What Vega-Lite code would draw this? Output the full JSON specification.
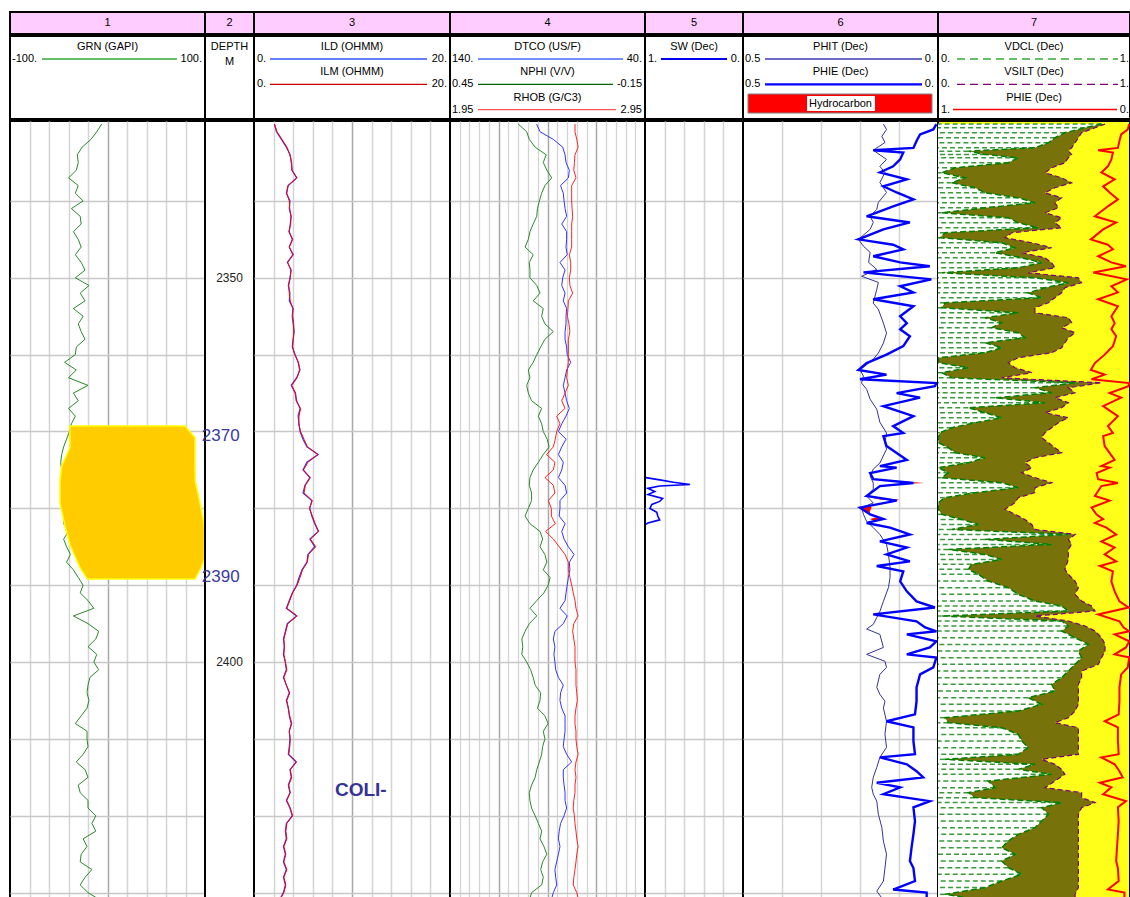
{
"$schema":"https://vega.github.io/schema/vega-lite/v6.json",
"background":"white",
"padding":{"left":9,"top":11,"right":0,"bottom":0},
"spacing":0,
"config":{"view":{"stroke":"black","strokeWidth":2},"concat":{"spacing":0},"axis":{"labels":false,"ticks":false,"domain":false,"minExtent":0,"maxExtent":0},"text":{"font":"Liberation Sans","fontSize":11}},
"datasets":{
"grn":[{"d":2330,"v":-6},{"d":2331,"v":-11},{"d":2332,"v":-17},{"d":2333,"v":-26},{"d":2334,"v":-31},{"d":2335,"v":-30},{"d":2336,"v":-32},{"d":2337,"v":-40},{"d":2338,"v":-30},{"d":2339,"v":-33},{"d":2340,"v":-25},{"d":2341,"v":-37},{"d":2342,"v":-28},{"d":2343,"v":-27},{"d":2344,"v":-35},{"d":2345,"v":-30},{"d":2346,"v":-27},{"d":2347,"v":-33},{"d":2348,"v":-27},{"d":2349,"v":-23},{"d":2350,"v":-33},{"d":2351,"v":-19},{"d":2352,"v":-28},{"d":2353,"v":-23},{"d":2354,"v":-35},{"d":2355,"v":-25},{"d":2356,"v":-30},{"d":2357,"v":-27},{"d":2358,"v":-23},{"d":2359,"v":-32},{"d":2360,"v":-33},{"d":2361,"v":-44},{"d":2362,"v":-32},{"d":2363,"v":-40},{"d":2364,"v":-20},{"d":2365,"v":-35},{"d":2366,"v":-30},{"d":2367,"v":-40},{"d":2368,"v":-33},{"d":2369,"v":-37},{"d":2370,"v":-39},{"d":2371,"v":-42},{"d":2372,"v":-45},{"d":2373,"v":-47},{"d":2374,"v":-48},{"d":2375,"v":-47},{"d":2376,"v":-46},{"d":2377,"v":-47},{"d":2378,"v":-46},{"d":2379,"v":-47},{"d":2380,"v":-45},{"d":2381,"v":-44},{"d":2382,"v":-45},{"d":2383,"v":-40},{"d":2384,"v":-45},{"d":2385,"v":-42},{"d":2386,"v":-38},{"d":2387,"v":-42},{"d":2388,"v":-35},{"d":2389,"v":-30},{"d":2390,"v":-25},{"d":2391,"v":-28},{"d":2392,"v":-20},{"d":2393,"v":-14},{"d":2394,"v":-35},{"d":2395,"v":-20},{"d":2396,"v":-9},{"d":2397,"v":-12},{"d":2398,"v":-20},{"d":2399,"v":-11},{"d":2400,"v":-14},{"d":2401,"v":-9},{"d":2402,"v":-18},{"d":2403,"v":-20},{"d":2404,"v":-21},{"d":2405,"v":-19},{"d":2406,"v":-21},{"d":2407,"v":-27},{"d":2408,"v":-33},{"d":2409,"v":-21},{"d":2410,"v":-21},{"d":2411,"v":-20},{"d":2412,"v":-25},{"d":2413,"v":-32},{"d":2414,"v":-23},{"d":2415,"v":-20},{"d":2416,"v":-30},{"d":2417,"v":-28},{"d":2418,"v":-20},{"d":2419,"v":-20},{"d":2420,"v":-12},{"d":2421,"v":-16},{"d":2422,"v":-12},{"d":2423,"v":-25},{"d":2424,"v":-21},{"d":2425,"v":-27},{"d":2426,"v":-28},{"d":2427,"v":-16},{"d":2428,"v":-23},{"d":2429,"v":-28},{"d":2430,"v":-20},{"d":2430.7,"v":-11}],
"core":[{"d":2369.3,"l":-38.5,"r":79.5},{"d":2370.8,"l":-38.5,"r":89.7},{"d":2372.1,"l":-38.5,"r":89.7},{"d":2374.5,"l":-47,"r":89.7},{"d":2376.5,"l":-48.7,"r":90},{"d":2379.3,"l":-48.7,"r":94.9},{"d":2382.3,"l":-43.6,"r":99.3},{"d":2384.7,"l":-38.5,"r":99.3},{"d":2386.6,"l":-32,"r":99.3},{"d":2387.7,"l":-28.2,"r":96},{"d":2389.2,"l":-20.7,"r":89.7}],
"res":[{"d":2330,"ild":2.07,"ilm":2.1},{"d":2331,"ild":2.3,"ilm":2.35},{"d":2332,"ild":2.8,"ilm":2.85},{"d":2333,"ild":3.3,"ilm":3.35},{"d":2334,"ild":3.7,"ilm":3.65},{"d":2335,"ild":3.8,"ilm":3.85},{"d":2336,"ild":3.9,"ilm":3.85},{"d":2337,"ild":4.35,"ilm":4.4},{"d":2338,"ild":3.5,"ilm":3.45},{"d":2339,"ild":3.3,"ilm":3.35},{"d":2340,"ild":3.67,"ilm":3.6},{"d":2341,"ild":3.6,"ilm":3.65},{"d":2342,"ild":3.8,"ilm":3.75},{"d":2343,"ild":3.7,"ilm":3.75},{"d":2344,"ild":3.6,"ilm":3.55},{"d":2345,"ild":3.9,"ilm":3.95},{"d":2346,"ild":3.6,"ilm":3.6},{"d":2347,"ild":4.0,"ilm":3.95},{"d":2348,"ild":3.4,"ilm":3.45},{"d":2349,"ild":3.8,"ilm":3.75},{"d":2350,"ild":3.67,"ilm":3.7},{"d":2351,"ild":3.5,"ilm":3.55},{"d":2352,"ild":3.67,"ilm":3.6},{"d":2353,"ild":3.6,"ilm":3.7},{"d":2354,"ild":4.0,"ilm":3.95},{"d":2355,"ild":3.9,"ilm":3.95},{"d":2356,"ild":4.0,"ilm":4.05},{"d":2357,"ild":4.1,"ilm":4.05},{"d":2358,"ild":4.0,"ilm":4.0},{"d":2359,"ild":3.9,"ilm":3.95},{"d":2360,"ild":4.2,"ilm":4.15},{"d":2361,"ild":4.5,"ilm":4.55},{"d":2362,"ild":4.7,"ilm":4.65},{"d":2363,"ild":4.35,"ilm":4.4},{"d":2364,"ild":3.8,"ilm":3.85},{"d":2365,"ild":4.2,"ilm":4.25},{"d":2366,"ild":4.35,"ilm":4.3},{"d":2367,"ild":4.7,"ilm":4.75},{"d":2368,"ild":4.5,"ilm":4.6},{"d":2369,"ild":4.6,"ilm":4.55},{"d":2370,"ild":4.7,"ilm":4.75},{"d":2371,"ild":5.0,"ilm":5.1},{"d":2372,"ild":5.4,"ilm":5.45},{"d":2373,"ild":6.56,"ilm":6.5},{"d":2374,"ild":5.4,"ilm":5.5},{"d":2375,"ild":5.0,"ilm":5.05},{"d":2376,"ild":5.7,"ilm":5.75},{"d":2377,"ild":5.2,"ilm":5.25},{"d":2378,"ild":5.0,"ilm":5.1},{"d":2379,"ild":5.9,"ilm":5.95},{"d":2380,"ild":5.7,"ilm":5.65},{"d":2381,"ild":5.9,"ilm":5.95},{"d":2382,"ild":6.2,"ilm":6.25},{"d":2383,"ild":6.56,"ilm":6.6},{"d":2384,"ild":5.7,"ilm":5.75},{"d":2385,"ild":6.2,"ilm":6.3},{"d":2386,"ild":5.5,"ilm":5.55},{"d":2387,"ild":5.4,"ilm":5.45},{"d":2388,"ild":4.9,"ilm":4.95},{"d":2389,"ild":4.6,"ilm":4.7},{"d":2390,"ild":4.35,"ilm":4.4},{"d":2391,"ild":3.9,"ilm":3.95},{"d":2392,"ild":3.6,"ilm":3.65},{"d":2393,"ild":3.3,"ilm":3.35},{"d":2394,"ild":4.35,"ilm":4.4},{"d":2395,"ild":3.4,"ilm":3.45},{"d":2396,"ild":3.2,"ilm":3.25},{"d":2397,"ild":3.0,"ilm":3.05},{"d":2398,"ild":3.1,"ilm":3.1},{"d":2399,"ild":3.0,"ilm":3.05},{"d":2400,"ild":3.2,"ilm":3.2},{"d":2401,"ild":3.3,"ilm":3.35},{"d":2402,"ild":3.0,"ilm":3.05},{"d":2403,"ild":3.3,"ilm":3.3},{"d":2404,"ild":3.6,"ilm":3.65},{"d":2405,"ild":3.3,"ilm":3.35},{"d":2406,"ild":3.5,"ilm":3.5},{"d":2407,"ild":3.6,"ilm":3.65},{"d":2408,"ild":3.8,"ilm":3.85},{"d":2409,"ild":3.6,"ilm":3.6},{"d":2410,"ild":3.67,"ilm":3.7},{"d":2411,"ild":3.6,"ilm":3.65},{"d":2412,"ild":3.5,"ilm":3.55},{"d":2413,"ild":4.3,"ilm":4.35},{"d":2414,"ild":3.67,"ilm":3.7},{"d":2415,"ild":3.8,"ilm":3.85},{"d":2416,"ild":3.5,"ilm":3.55},{"d":2417,"ild":3.67,"ilm":3.7},{"d":2418,"ild":3.3,"ilm":3.35},{"d":2419,"ild":3.67,"ilm":3.7},{"d":2420,"ild":3.9,"ilm":3.95},{"d":2421,"ild":3.3,"ilm":3.35},{"d":2422,"ild":3.2,"ilm":3.25},{"d":2423,"ild":3.3,"ilm":3.35},{"d":2424,"ild":3.0,"ilm":3.05},{"d":2425,"ild":3.2,"ilm":3.25},{"d":2426,"ild":3.0,"ilm":3.05},{"d":2427,"ild":3.3,"ilm":3.35},{"d":2428,"ild":3.0,"ilm":3.05},{"d":2429,"ild":3.2,"ilm":3.25},{"d":2430,"ild":3.0,"ilm":3.05},{"d":2430.7,"ild":2.7,"ilm":2.75}],
"t4":[{"d":2330,"dt":95.6,"np":0.24,"rb":2.591},{"d":2331,"dt":93.8,"np":0.214,"rb":2.591},{"d":2332,"dt":87.0,"np":0.206,"rb":2.6},{"d":2333,"dt":82.2,"np":0.188,"rb":2.607},{"d":2334,"dt":81.0,"np":0.154,"rb":2.591},{"d":2335,"dt":80.5,"np":0.163,"rb":2.588},{"d":2336,"dt":78.8,"np":0.152,"rb":2.585},{"d":2337,"dt":79.3,"np":0.137,"rb":2.596},{"d":2338,"dt":83.3,"np":0.158,"rb":2.574},{"d":2339,"dt":81.9,"np":0.168,"rb":2.574},{"d":2340,"dt":81.5,"np":0.175,"rb":2.574},{"d":2341,"dt":81.0,"np":0.181,"rb":2.576},{"d":2342,"dt":80.2,"np":0.183,"rb":2.579},{"d":2343,"dt":82.7,"np":0.194,"rb":2.574},{"d":2344,"dt":80.2,"np":0.204,"rb":2.574},{"d":2345,"dt":80.2,"np":0.209,"rb":2.574},{"d":2346,"dt":80.5,"np":0.219,"rb":2.574},{"d":2347,"dt":79.9,"np":0.194,"rb":2.562},{"d":2348,"dt":83.6,"np":0.206,"rb":2.569},{"d":2349,"dt":81.0,"np":0.204,"rb":2.569},{"d":2350,"dt":82.2,"np":0.204,"rb":2.562},{"d":2351,"dt":82.7,"np":0.183,"rb":2.565},{"d":2352,"dt":81.0,"np":0.173,"rb":2.579},{"d":2353,"dt":81.9,"np":0.194,"rb":2.557},{"d":2354,"dt":80.2,"np":0.163,"rb":2.555},{"d":2355,"dt":80.5,"np":0.168,"rb":2.552},{"d":2356,"dt":80.5,"np":0.158,"rb":2.56},{"d":2357,"dt":81.0,"np":0.132,"rb":2.565},{"d":2358,"dt":81.0,"np":0.158,"rb":2.557},{"d":2359,"dt":80.2,"np":0.171,"rb":2.557},{"d":2360,"dt":79.9,"np":0.183,"rb":2.557},{"d":2361,"dt":78.1,"np":0.194,"rb":2.557},{"d":2362,"dt":80.2,"np":0.209,"rb":2.552},{"d":2363,"dt":81.0,"np":0.204,"rb":2.548},{"d":2364,"dt":81.9,"np":0.214,"rb":2.557},{"d":2365,"dt":81.0,"np":0.209,"rb":2.54},{"d":2366,"dt":80.2,"np":0.199,"rb":2.523},{"d":2367,"dt":78.8,"np":0.168,"rb":2.54},{"d":2368,"dt":80.5,"np":0.178,"rb":2.497},{"d":2369,"dt":82.7,"np":0.168,"rb":2.514},{"d":2370,"dt":84.4,"np":0.163,"rb":2.497},{"d":2371,"dt":80.5,"np":0.151,"rb":2.49},{"d":2372,"dt":82.7,"np":0.145,"rb":2.48},{"d":2373,"dt":84.4,"np":0.163,"rb":2.445},{"d":2374,"dt":81.9,"np":0.178,"rb":2.488},{"d":2375,"dt":82.7,"np":0.194,"rb":2.48},{"d":2376,"dt":84.4,"np":0.204,"rb":2.437},{"d":2377,"dt":81.0,"np":0.206,"rb":2.48},{"d":2378,"dt":80.2,"np":0.199,"rb":2.488},{"d":2379,"dt":83.6,"np":0.199,"rb":2.454},{"d":2380,"dt":83.6,"np":0.209,"rb":2.47},{"d":2381,"dt":84.0,"np":0.219,"rb":2.47},{"d":2382,"dt":81.0,"np":0.204,"rb":2.49},{"d":2383,"dt":82.7,"np":0.173,"rb":2.44},{"d":2384,"dt":81.5,"np":0.165,"rb":2.48},{"d":2385,"dt":79.3,"np":0.173,"rb":2.51},{"d":2386,"dt":76.4,"np":0.158,"rb":2.54},{"d":2387,"dt":78.8,"np":0.152,"rb":2.557},{"d":2388,"dt":78.5,"np":0.163,"rb":2.557},{"d":2389,"dt":79.3,"np":0.142,"rb":2.565},{"d":2390,"dt":79.9,"np":0.148,"rb":2.574},{"d":2391,"dt":80.5,"np":0.161,"rb":2.582},{"d":2392,"dt":81.0,"np":0.183,"rb":2.591},{"d":2393,"dt":83.6,"np":0.204,"rb":2.596},{"d":2394,"dt":79.9,"np":0.183,"rb":2.607},{"d":2395,"dt":81.9,"np":0.206,"rb":2.585},{"d":2396,"dt":86.2,"np":0.219,"rb":2.579},{"d":2397,"dt":87.0,"np":0.229,"rb":2.585},{"d":2398,"dt":86.2,"np":0.226,"rb":2.591},{"d":2399,"dt":86.7,"np":0.229,"rb":2.591},{"d":2400,"dt":86.2,"np":0.214,"rb":2.591},{"d":2401,"dt":85.8,"np":0.202,"rb":2.596},{"d":2402,"dt":84.4,"np":0.194,"rb":2.596},{"d":2403,"dt":81.9,"np":0.188,"rb":2.596},{"d":2404,"dt":83.3,"np":0.171,"rb":2.6},{"d":2405,"dt":83.6,"np":0.173,"rb":2.603},{"d":2406,"dt":82.7,"np":0.181,"rb":2.596},{"d":2407,"dt":81.0,"np":0.158,"rb":2.591},{"d":2408,"dt":81.0,"np":0.148,"rb":2.591},{"d":2409,"dt":81.0,"np":0.163,"rb":2.596},{"d":2410,"dt":81.5,"np":0.158,"rb":2.596},{"d":2411,"dt":81.9,"np":0.165,"rb":2.6},{"d":2412,"dt":80.2,"np":0.168,"rb":2.607},{"d":2413,"dt":77.6,"np":0.175,"rb":2.596},{"d":2414,"dt":81.9,"np":0.183,"rb":2.591},{"d":2415,"dt":81.9,"np":0.188,"rb":2.596},{"d":2416,"dt":81.5,"np":0.199,"rb":2.591},{"d":2417,"dt":81.0,"np":0.206,"rb":2.591},{"d":2418,"dt":81.0,"np":0.204,"rb":2.585},{"d":2419,"dt":80.2,"np":0.199,"rb":2.582},{"d":2420,"dt":81.5,"np":0.188,"rb":2.588},{"d":2421,"dt":83.3,"np":0.178,"rb":2.591},{"d":2422,"dt":84.0,"np":0.168,"rb":2.596},{"d":2423,"dt":84.4,"np":0.173,"rb":2.6},{"d":2424,"dt":83.6,"np":0.161,"rb":2.607},{"d":2425,"dt":84.4,"np":0.152,"rb":2.6},{"d":2426,"dt":85.3,"np":0.165,"rb":2.596},{"d":2427,"dt":86.2,"np":0.171,"rb":2.591},{"d":2428,"dt":85.8,"np":0.163,"rb":2.585},{"d":2429,"dt":85.3,"np":0.168,"rb":2.582},{"d":2430,"dt":87.0,"np":0.199,"rb":2.6},{"d":2430.7,"dt":87.8,"np":0.204,"rb":2.607}],
"sw":[{"d":2376.0,"v":0.99},{"d":2376.3,"v":0.85},{"d":2376.6,"v":0.71},{"d":2376.9,"v":0.54},{"d":2377.1,"v":0.85},{"d":2377.4,"v":0.97},{"d":2377.8,"v":0.9},{"d":2378.2,"v":0.97},{"d":2378.7,"v":0.82},{"d":2379.1,"v":0.85},{"d":2379.5,"v":0.93},{"d":2380.0,"v":0.95},{"d":2380.5,"v":0.88},{"d":2381.0,"v":0.87},{"d":2381.5,"v":0.85},{"d":2381.9,"v":0.97},{"d":2382.1,"v":0.99}],
"phit":[{"d":2330.0,"v":0.14},{"d":2330.7,"v":0.132},{"d":2331.6,"v":0.144},{"d":2332.4,"v":0.136},{"d":2333.4,"v":0.166},{"d":2334.6,"v":0.132},{"d":2335.5,"v":0.149},{"d":2336.3,"v":0.136},{"d":2337.6,"v":0.149},{"d":2338.9,"v":0.132},{"d":2340.2,"v":0.153},{"d":2341.1,"v":0.157},{"d":2342.0,"v":0.174},{"d":2342.8,"v":0.166},{"d":2343.7,"v":0.174},{"d":2345.0,"v":0.204},{"d":2345.9,"v":0.191},{"d":2346.7,"v":0.174},{"d":2348.0,"v":0.178},{"d":2348.9,"v":0.157},{"d":2349.8,"v":0.196},{"d":2350.6,"v":0.153},{"d":2351.5,"v":0.157},{"d":2353.3,"v":0.166},{"d":2354.1,"v":0.153},{"d":2355.9,"v":0.14},{"d":2357.2,"v":0.132},{"d":2358.5,"v":0.14},{"d":2359.8,"v":0.153},{"d":2360.6,"v":0.166},{"d":2362.0,"v":0.2},{"d":2362.8,"v":0.191},{"d":2363.7,"v":0.196},{"d":2364.5,"v":0.183},{"d":2365.8,"v":0.174},{"d":2367.1,"v":0.157},{"d":2368.8,"v":0.149},{"d":2370.2,"v":0.132},{"d":2371.5,"v":0.136},{"d":2372.3,"v":0.132},{"d":2374.1,"v":0.149},{"d":2374.9,"v":0.166},{"d":2375.8,"v":0.174},{"d":2376.7,"v":0.166},{"d":2377.5,"v":0.166},{"d":2378.4,"v":0.183},{"d":2379.3,"v":0.166},{"d":2379.9,"v":0.196},{"d":2380.8,"v":0.191},{"d":2381.7,"v":0.183},{"d":2382.5,"v":0.166},{"d":2383.4,"v":0.149},{"d":2384.7,"v":0.132},{"d":2386.0,"v":0.127},{"d":2387.7,"v":0.123},{"d":2389.0,"v":0.123},{"d":2390.3,"v":0.127},{"d":2392.1,"v":0.14},{"d":2393.4,"v":0.149},{"d":2394.2,"v":0.157},{"d":2395.1,"v":0.166},{"d":2395.7,"v":0.183},{"d":2396.4,"v":0.149},{"d":2398.1,"v":0.14},{"d":2399.0,"v":0.183},{"d":2399.9,"v":0.136},{"d":2400.7,"v":0.132},{"d":2401.6,"v":0.149},{"d":2403.3,"v":0.157},{"d":2404.2,"v":0.149},{"d":2405.1,"v":0.136},{"d":2406.0,"v":0.14},{"d":2407.7,"v":0.132},{"d":2409.4,"v":0.136},{"d":2411.1,"v":0.132},{"d":2412.4,"v":0.149},{"d":2413.7,"v":0.157},{"d":2415.0,"v":0.166},{"d":2416.3,"v":0.17},{"d":2417.2,"v":0.166},{"d":2418.1,"v":0.157},{"d":2419.8,"v":0.153},{"d":2421.5,"v":0.144},{"d":2423.3,"v":0.14},{"d":2425.0,"v":0.132},{"d":2426.8,"v":0.136},{"d":2428.5,"v":0.14},{"d":2429.8,"v":0.157},{"d":2430.7,"v":0.144}],
"phie":[{"d":2330.0,"v":0.004},{"d":2330.7,"v":0.012},{"d":2331.35,"v":0.046},{"d":2332.2,"v":0.055},{"d":2333.1,"v":0.063},{"d":2333.4,"v":0.166},{"d":2333.7,"v":0.089},{"d":2334.6,"v":0.097},{"d":2335.5,"v":0.115},{"d":2336.3,"v":0.149},{"d":2337.2,"v":0.08},{"d":2338.1,"v":0.14},{"d":2338.9,"v":0.106},{"d":2339.8,"v":0.063},{"d":2340.7,"v":0.115},{"d":2342.0,"v":0.183},{"d":2342.8,"v":0.072},{"d":2343.7,"v":0.14},{"d":2345.0,"v":0.204},{"d":2345.7,"v":0.115},{"d":2346.3,"v":0.089},{"d":2347.2,"v":0.166},{"d":2348.0,"v":0.097},{"d":2348.5,"v":0.021},{"d":2349.3,"v":0.191},{"d":2350.2,"v":0.017},{"d":2351.1,"v":0.097},{"d":2351.9,"v":0.063},{"d":2352.8,"v":0.166},{"d":2353.7,"v":0.063},{"d":2355.0,"v":0.097},{"d":2355.9,"v":0.08},{"d":2356.7,"v":0.097},{"d":2357.6,"v":0.072},{"d":2358.9,"v":0.089},{"d":2360.0,"v":0.132},{"d":2361.1,"v":0.183},{"d":2362.0,"v":0.204},{"d":2362.6,"v":0.132},{"d":2363.2,"v":0.2},{"d":2363.7,"v":0.004},{"d":2364.1,"v":0.008},{"d":2365.0,"v":0.106},{"d":2365.6,"v":0.046},{"d":2366.7,"v":0.14},{"d":2368.0,"v":0.063},{"d":2369.3,"v":0.115},{"d":2370.2,"v":0.089},{"d":2370.6,"v":0.14},{"d":2371.9,"v":0.132},{"d":2373.7,"v":0.08},{"d":2374.5,"v":0.149},{"d":2374.7,"v":0.106},{"d":2375.4,"v":0.174},{"d":2376.2,"v":0.166},{"d":2376.7,"v":0.063},{"d":2377.1,"v":0.149},{"d":2378.4,"v":0.183},{"d":2379.0,"v":0.106},{"d":2379.9,"v":0.2},{"d":2380.8,"v":0.174},{"d":2381.4,"v":0.14},{"d":2381.9,"v":0.183},{"d":2382.5,"v":0.123},{"d":2383.4,"v":0.072},{"d":2384.3,"v":0.149},{"d":2385.1,"v":0.08},{"d":2386.0,"v":0.132},{"d":2386.9,"v":0.072},{"d":2387.5,"v":0.157},{"d":2388.2,"v":0.089},{"d":2389.5,"v":0.097},{"d":2390.8,"v":0.08},{"d":2392.1,"v":0.055},{"d":2392.9,"v":0.008},{"d":2393.8,"v":0.166},{"d":2394.7,"v":0.055},{"d":2395.5,"v":0.033},{"d":2396.0,"v":0.004},{"d":2396.4,"v":0.08},{"d":2397.3,"v":0.004},{"d":2398.1,"v":0.021},{"d":2399.0,"v":0.08},{"d":2399.4,"v":0.004},{"d":2400.7,"v":0.012},{"d":2401.6,"v":0.046},{"d":2403.3,"v":0.055},{"d":2405.1,"v":0.055},{"d":2406.8,"v":0.059},{"d":2407.7,"v":0.132},{"d":2408.5,"v":0.063},{"d":2410.3,"v":0.063},{"d":2412.0,"v":0.059},{"d":2412.4,"v":0.149},{"d":2413.3,"v":0.08},{"d":2414.2,"v":0.055},{"d":2415.0,"v":0.038},{"d":2415.7,"v":0.157},{"d":2416.3,"v":0.097},{"d":2417.2,"v":0.14},{"d":2418.1,"v":0.021},{"d":2418.9,"v":0.063},{"d":2420.7,"v":0.059},{"d":2422.4,"v":0.063},{"d":2424.2,"v":0.068},{"d":2425.9,"v":0.072},{"d":2426.8,"v":0.063},{"d":2428.5,"v":0.059},{"d":2429.6,"v":0.115},{"d":2430.0,"v":0.029},{"d":2430.7,"v":0.029}],
"hc":[{"g":1,"d":2376.4,"a":0.11,"b":0.11},{"g":1,"d":2376.7,"a":0.063,"b":0.035},{"g":1,"d":2376.9,"a":0.12,"b":0.12},{"g":2,"d":2378.6,"a":0.17,"b":0.17},{"g":2,"d":2378.85,"a":0.15,"b":0.1},{"g":2,"d":2379.0,"a":0.106,"b":0.106},{"g":3,"d":2379.6,"a":0.18,"b":0.18},{"g":3,"d":2379.9,"a":0.2,"b":0.17},{"g":3,"d":2380.4,"a":0.19,"b":0.175},{"g":3,"d":2380.8,"a":0.174,"b":0.174},{"g":4,"d":2381.2,"a":0.16,"b":0.16},{"g":4,"d":2381.4,"a":0.174,"b":0.136},{"g":4,"d":2381.6,"a":0.165,"b":0.165}],
"lith":[{"d":2330.0,"vcl":0.852,"vs":0.87},{"d":2330.48,"vcl":0.766,"vs":0.818},{"d":2331.13,"vcl":0.661,"vs":0.748},{"d":2331.78,"vcl":0.609,"vs":0.731},{"d":2332.43,"vcl":0.575,"vs":0.714},{"d":2333.08,"vcl":0.505,"vs":0.696},{"d":2333.52,"vcl":0.158,"vs":0.679},{"d":2333.95,"vcl":0.245,"vs":0.696},{"d":2334.38,"vcl":0.418,"vs":0.679},{"d":2335.03,"vcl":0.366,"vs":0.661},{"d":2335.69,"vcl":0.089,"vs":0.592},{"d":2336.34,"vcl":0.019,"vs":0.557},{"d":2336.99,"vcl":0.141,"vs":0.644},{"d":2337.64,"vcl":0.071,"vs":0.696},{"d":2338.29,"vcl":0.193,"vs":0.609},{"d":2338.94,"vcl":0.245,"vs":0.557},{"d":2339.59,"vcl":0.418,"vs":0.644},{"d":2340.24,"vcl":0.505,"vs":0.609},{"d":2340.89,"vcl":0.245,"vs":0.627},{"d":2341.54,"vcl":0.019,"vs":0.557},{"d":2342.19,"vcl":0.366,"vs":0.644},{"d":2342.84,"vcl":0.418,"vs":0.609},{"d":2343.49,"vcl":0.523,"vs":0.644},{"d":2344.14,"vcl":0.036,"vs":0.384},{"d":2344.79,"vcl":0.01,"vs":0.349},{"d":2345.44,"vcl":0.332,"vs":0.488},{"d":2346.09,"vcl":0.401,"vs":0.592},{"d":2346.74,"vcl":0.297,"vs":0.436},{"d":2347.39,"vcl":0.436,"vs":0.557},{"d":2348.04,"vcl":0.54,"vs":0.592},{"d":2348.69,"vcl":0.418,"vs":0.609},{"d":2349.35,"vcl":0.019,"vs":0.47},{"d":2350.0,"vcl":0.505,"vs":0.731},{"d":2350.65,"vcl":0.679,"vs":0.748},{"d":2351.3,"vcl":0.557,"vs":0.661},{"d":2351.95,"vcl":0.47,"vs":0.644},{"d":2352.6,"vcl":0.54,"vs":0.609},{"d":2353.25,"vcl":0.036,"vs":0.575},{"d":2353.9,"vcl":0.019,"vs":0.505},{"d":2354.55,"vcl":0.418,"vs":0.505},{"d":2355.2,"vcl":0.245,"vs":0.679},{"d":2355.85,"vcl":0.332,"vs":0.696},{"d":2356.5,"vcl":0.28,"vs":0.644},{"d":2357.15,"vcl":0.418,"vs":0.714},{"d":2357.8,"vcl":0.453,"vs":0.679},{"d":2358.45,"vcl":0.245,"vs":0.661},{"d":2359.1,"vcl":0.332,"vs":0.644},{"d":2359.75,"vcl":0.245,"vs":0.592},{"d":2360.4,"vcl":0.002,"vs":0.418},{"d":2361.05,"vcl":0.002,"vs":0.366},{"d":2361.7,"vcl":0.158,"vs":0.401},{"d":2362.35,"vcl":0.019,"vs":0.488},{"d":2363.01,"vcl":0.071,"vs":0.332},{"d":2363.66,"vcl":0.714,"vs":0.852},{"d":2364.31,"vcl":0.505,"vs":0.679},{"d":2364.96,"vcl":0.592,"vs":0.714},{"d":2365.61,"vcl":0.297,"vs":0.609},{"d":2366.26,"vcl":0.557,"vs":0.679},{"d":2366.91,"vcl":0.158,"vs":0.644},{"d":2367.56,"vcl":0.245,"vs":0.557},{"d":2368.21,"vcl":0.332,"vs":0.679},{"d":2368.86,"vcl":0.193,"vs":0.627},{"d":2369.51,"vcl":0.071,"vs":0.592},{"d":2370.16,"vcl":0.01,"vs":0.557},{"d":2370.81,"vcl":0.002,"vs":0.54},{"d":2371.46,"vcl":0.002,"vs":0.575},{"d":2372.11,"vcl":0.054,"vs":0.609},{"d":2372.76,"vcl":0.089,"vs":0.644},{"d":2373.41,"vcl":0.245,"vs":0.505},{"d":2374.06,"vcl":0.158,"vs":0.453},{"d":2374.71,"vcl":0.002,"vs":0.488},{"d":2375.36,"vcl":0.054,"vs":0.436},{"d":2376.01,"vcl":0.019,"vs":0.505},{"d":2376.66,"vcl":0.332,"vs":0.592},{"d":2377.31,"vcl":0.418,"vs":0.505},{"d":2377.96,"vcl":0.193,"vs":0.505},{"d":2378.61,"vcl":0.036,"vs":0.418},{"d":2379.26,"vcl":0.002,"vs":0.401},{"d":2380.13,"vcl":0.002,"vs":0.349},{"d":2380.78,"vcl":0.019,"vs":0.401},{"d":2381.44,"vcl":0.123,"vs":0.453},{"d":2382.09,"vcl":0.21,"vs":0.488},{"d":2382.74,"vcl":0.071,"vs":0.505},{"d":2383.39,"vcl":0.679,"vs":0.714},{"d":2384.04,"vcl":0.245,"vs":0.679},{"d":2384.69,"vcl":0.592,"vs":0.696},{"d":2385.34,"vcl":0.054,"vs":0.679},{"d":2385.99,"vcl":0.245,"vs":0.679},{"d":2386.64,"vcl":0.332,"vs":0.679},{"d":2387.29,"vcl":0.175,"vs":0.67},{"d":2387.94,"vcl":0.158,"vs":0.661},{"d":2388.59,"vcl":0.21,"vs":0.679},{"d":2389.46,"vcl":0.262,"vs":0.714},{"d":2390.32,"vcl":0.366,"vs":0.731},{"d":2391.19,"vcl":0.418,"vs":0.714},{"d":2392.06,"vcl":0.505,"vs":0.748},{"d":2392.71,"vcl":0.644,"vs":0.8},{"d":2393.36,"vcl":0.679,"vs":0.818},{"d":2394.01,"vcl":0.019,"vs":0.505},{"d":2394.66,"vcl":0.644,"vs":0.679},{"d":2395.31,"vcl":0.679,"vs":0.766},{"d":2395.96,"vcl":0.644,"vs":0.818},{"d":2396.83,"vcl":0.714,"vs":0.852},{"d":2397.7,"vcl":0.783,"vs":0.87},{"d":2398.56,"vcl":0.731,"vs":0.87},{"d":2399.43,"vcl":0.748,"vs":0.852},{"d":2400.3,"vcl":0.714,"vs":0.835},{"d":2401.17,"vcl":0.679,"vs":0.748},{"d":2402.03,"vcl":0.644,"vs":0.748},{"d":2402.9,"vcl":0.592,"vs":0.731},{"d":2403.77,"vcl":0.609,"vs":0.731},{"d":2404.64,"vcl":0.47,"vs":0.731},{"d":2405.5,"vcl":0.54,"vs":0.731},{"d":2406.37,"vcl":0.418,"vs":0.714},{"d":2407.24,"vcl":0.036,"vs":0.679},{"d":2407.89,"vcl":0.054,"vs":0.609},{"d":2408.54,"vcl":0.332,"vs":0.731},{"d":2409.41,"vcl":0.418,"vs":0.731},{"d":2410.27,"vcl":0.436,"vs":0.731},{"d":2411.14,"vcl":0.47,"vs":0.731},{"d":2412.01,"vcl":0.418,"vs":0.731},{"d":2412.66,"vcl":0.036,"vs":0.54},{"d":2413.31,"vcl":0.505,"vs":0.609},{"d":2413.96,"vcl":0.418,"vs":0.644},{"d":2414.61,"vcl":0.592,"vs":0.661},{"d":2415.48,"vcl":0.262,"vs":0.609},{"d":2416.34,"vcl":0.297,"vs":0.557},{"d":2416.99,"vcl":0.158,"vs":0.748},{"d":2417.64,"vcl":0.193,"vs":0.748},{"d":2418.29,"vcl":0.644,"vs":0.818},{"d":2418.95,"vcl":0.54,"vs":0.748},{"d":2419.81,"vcl":0.575,"vs":0.731},{"d":2420.68,"vcl":0.54,"vs":0.731},{"d":2421.55,"vcl":0.505,"vs":0.731},{"d":2422.42,"vcl":0.418,"vs":0.731},{"d":2423.28,"vcl":0.366,"vs":0.731},{"d":2424.15,"vcl":0.332,"vs":0.731},{"d":2425.02,"vcl":0.401,"vs":0.731},{"d":2425.89,"vcl":0.332,"vs":0.731},{"d":2426.75,"vcl":0.366,"vs":0.731},{"d":2427.62,"vcl":0.436,"vs":0.731},{"d":2428.49,"vcl":0.332,"vs":0.731},{"d":2429.35,"vcl":0.245,"vs":0.731},{"d":2430.22,"vcl":0.036,"vs":0.714},{"d":2430.7,"vcl":0.158,"vs":0.714}]
},
"vconcat":[
{"spacing":0,"bounds":"flush","hconcat":[
 {"width":195,"height":22,"view":{"fill":"#ffccff","stroke":"black","strokeWidth":2},"data":{"values":[{"n":"1"}]},"mark":{"type":"text"},"encoding":{"text":{"field":"n","type":"nominal"}}},
 {"width":49,"height":22,"view":{"fill":"#ffccff","stroke":"black","strokeWidth":2},"data":{"values":[{"n":"2"}]},"mark":{"type":"text"},"encoding":{"text":{"field":"n","type":"nominal"}}},
 {"width":196,"height":22,"view":{"fill":"#ffccff","stroke":"black","strokeWidth":2},"data":{"values":[{"n":"3"}]},"mark":{"type":"text"},"encoding":{"text":{"field":"n","type":"nominal"}}},
 {"width":195,"height":22,"view":{"fill":"#ffccff","stroke":"black","strokeWidth":2},"data":{"values":[{"n":"4"}]},"mark":{"type":"text"},"encoding":{"text":{"field":"n","type":"nominal"}}},
 {"width":98,"height":22,"view":{"fill":"#ffccff","stroke":"black","strokeWidth":2},"data":{"values":[{"n":"5"}]},"mark":{"type":"text"},"encoding":{"text":{"field":"n","type":"nominal"}}},
 {"width":195,"height":22,"view":{"fill":"#ffccff","stroke":"black","strokeWidth":2},"data":{"values":[{"n":"6"}]},"mark":{"type":"text"},"encoding":{"text":{"field":"n","type":"nominal"}}},
 {"width":192,"height":22,"view":{"fill":"#ffccff","stroke":"black","strokeWidth":2},"data":{"values":[{"n":"7"}]},"mark":{"type":"text"},"encoding":{"text":{"field":"n","type":"nominal"}}}
]},
{"spacing":0,"bounds":"flush","hconcat":[
 {"width":195,"height":83,"view":{"fill":"white","stroke":"black","strokeWidth":2},"data":{"values":[{"r":0,"name":"GRN (GAPI)","lo":"-100.","hi":"100."}]},
  "layer":[
   {"mark":{"type":"text","dy":-12},"encoding":{"x":{"datum":0.5,"type":"quantitative","scale":{"domain":[0,1],"nice":false},"axis":null},"y":{"field":"r","type":"quantitative","scale":{"domain":[-0.909,2.372],"reverse":true,"nice":false,"zero":false},"axis":null},"text":{"field":"name","type":"nominal"}}},
   {"mark":{"type":"text","align":"left","dx":2},"encoding":{"x":{"datum":0,"type":"quantitative"},"y":{"field":"r","type":"quantitative"},"text":{"field":"lo","type":"nominal"}}},
   {"mark":{"type":"text","align":"right","dx":-3},"encoding":{"x":{"datum":1,"type":"quantitative"},"y":{"field":"r","type":"quantitative"},"text":{"field":"hi","type":"nominal"}}},
   {"mark":{"type":"rule","color":"#33aa33","strokeWidth":1.3,"xOffset":32,"x2Offset":-28},"encoding":{"x":{"value":0},"x2":{"value":"width"},"y":{"field":"r","type":"quantitative"}}}
  ]},
 {"width":49,"height":83,"view":{"fill":"white","stroke":"black","strokeWidth":2},"data":{"values":[{"r":0,"a":"DEPTH","b":"M"}]},
  "layer":[
   {"mark":{"type":"text","dy":-12},"encoding":{"x":{"datum":0.5,"type":"quantitative","scale":{"domain":[0,1],"nice":false},"axis":null},"y":{"field":"r","type":"quantitative","scale":{"domain":[-0.909,2.372],"reverse":true,"nice":false,"zero":false},"axis":null},"text":{"field":"a","type":"nominal"}}},
   {"mark":{"type":"text","dy":3},"encoding":{"x":{"datum":0.5,"type":"quantitative"},"y":{"field":"r","type":"quantitative"},"text":{"field":"b","type":"nominal"}}}
  ]},
 {"width":196,"height":83,"view":{"fill":"white","stroke":"black","strokeWidth":2},"data":{"values":[{"r":0,"name":"ILD (OHMM)","lo":"0.","hi":"20."},{"r":1,"name":"ILM (OHMM)","lo":"0.","hi":"20."}]},
  "layer":[
   {"mark":{"type":"text","dy":-12},"encoding":{"x":{"datum":0.5,"type":"quantitative","scale":{"domain":[0,1],"nice":false},"axis":null},"y":{"field":"r","type":"quantitative","scale":{"domain":[-0.909,2.372],"reverse":true,"nice":false,"zero":false},"axis":null},"text":{"field":"name","type":"nominal"}}},
   {"mark":{"type":"text","align":"left","dx":3},"encoding":{"x":{"datum":0,"type":"quantitative"},"y":{"field":"r","type":"quantitative"},"text":{"field":"lo","type":"nominal"}}},
   {"mark":{"type":"text","align":"right","dx":-3},"encoding":{"x":{"datum":1,"type":"quantitative"},"y":{"field":"r","type":"quantitative"},"text":{"field":"hi","type":"nominal"}}},
   {"transform":[{"filter":"datum.r == 0"}],"mark":{"type":"rule","color":"#3355ff","strokeWidth":1.3,"xOffset":16,"x2Offset":-23},"encoding":{"x":{"value":0},"x2":{"value":"width"},"y":{"field":"r","type":"quantitative"}}},
   {"transform":[{"filter":"datum.r == 1"}],"mark":{"type":"rule","color":"#cc0000","strokeWidth":1.3,"xOffset":16,"x2Offset":-23},"encoding":{"x":{"value":0},"x2":{"value":"width"},"y":{"field":"r","type":"quantitative"}}}
  ]},
 {"width":195,"height":83,"view":{"fill":"white","stroke":"black","strokeWidth":2},"data":{"values":[{"r":0,"name":"DTCO (US/F)","lo":"140.","hi":"40."},{"r":1,"name":"NPHI (V/V)","lo":"0.45","hi":"-0.15"},{"r":2,"name":"RHOB (G/C3)","lo":"1.95","hi":"2.95"}]},
  "layer":[
   {"mark":{"type":"text","dy":-12},"encoding":{"x":{"datum":0.5,"type":"quantitative","scale":{"domain":[0,1],"nice":false},"axis":null},"y":{"field":"r","type":"quantitative","scale":{"domain":[-0.909,2.372],"reverse":true,"nice":false,"zero":false},"axis":null},"text":{"field":"name","type":"nominal"}}},
   {"mark":{"type":"text","align":"left","dx":2},"encoding":{"x":{"datum":0,"type":"quantitative"},"y":{"field":"r","type":"quantitative"},"text":{"field":"lo","type":"nominal"}}},
   {"mark":{"type":"text","align":"right","dx":-3},"encoding":{"x":{"datum":1,"type":"quantitative"},"y":{"field":"r","type":"quantitative"},"text":{"field":"hi","type":"nominal"}}},
   {"transform":[{"filter":"datum.r == 0"}],"mark":{"type":"rule","color":"#4466ff","strokeWidth":1.3,"xOffset":28,"x2Offset":-22},"encoding":{"x":{"value":0},"x2":{"value":"width"},"y":{"field":"r","type":"quantitative"}}},
   {"transform":[{"filter":"datum.r == 1"}],"mark":{"type":"rule","color":"#006600","strokeWidth":1.3,"xOffset":28,"x2Offset":-32},"encoding":{"x":{"value":0},"x2":{"value":"width"},"y":{"field":"r","type":"quantitative"}}},
   {"transform":[{"filter":"datum.r == 2"}],"mark":{"type":"rule","color":"#ff5555","strokeWidth":1.3,"xOffset":28,"x2Offset":-29},"encoding":{"x":{"value":0},"x2":{"value":"width"},"y":{"field":"r","type":"quantitative"}}}
  ]},
 {"width":98,"height":83,"view":{"fill":"white","stroke":"black","strokeWidth":2},"data":{"values":[{"r":0,"name":"SW (Dec)","lo":"1.","hi":"0."}]},
  "layer":[
   {"mark":{"type":"text","dy":-12},"encoding":{"x":{"datum":0.5,"type":"quantitative","scale":{"domain":[0,1],"nice":false},"axis":null},"y":{"field":"r","type":"quantitative","scale":{"domain":[-0.909,2.372],"reverse":true,"nice":false,"zero":false},"axis":null},"text":{"field":"name","type":"nominal"}}},
   {"mark":{"type":"text","align":"left","dx":3},"encoding":{"x":{"datum":0,"type":"quantitative"},"y":{"field":"r","type":"quantitative"},"text":{"field":"lo","type":"nominal"}}},
   {"mark":{"type":"text","align":"right","dx":-3},"encoding":{"x":{"datum":1,"type":"quantitative"},"y":{"field":"r","type":"quantitative"},"text":{"field":"hi","type":"nominal"}}},
   {"mark":{"type":"rule","color":"#0000ee","strokeWidth":2,"xOffset":16,"x2Offset":-16},"encoding":{"x":{"value":0},"x2":{"value":"width"},"y":{"field":"r","type":"quantitative"}}}
  ]},
 {"width":195,"height":83,"view":{"fill":"white","stroke":"black","strokeWidth":2},"data":{"values":[{"r":0,"name":"PHIT (Dec)","lo":"0.5","hi":"0."},{"r":1,"name":"PHIE (Dec)","lo":"0.5","hi":"0."}]},
  "layer":[
   {"mark":{"type":"text","dy":-12},"encoding":{"x":{"datum":0.5,"type":"quantitative","scale":{"domain":[0,1],"nice":false},"axis":null},"y":{"field":"r","type":"quantitative","scale":{"domain":[-0.909,2.372],"reverse":true,"nice":false,"zero":false},"axis":null},"text":{"field":"name","type":"nominal"}}},
   {"mark":{"type":"text","align":"left","dx":2},"encoding":{"x":{"datum":0,"type":"quantitative"},"y":{"field":"r","type":"quantitative"},"text":{"field":"lo","type":"nominal"}}},
   {"mark":{"type":"text","align":"right","dx":-4},"encoding":{"x":{"datum":1,"type":"quantitative"},"y":{"field":"r","type":"quantitative"},"text":{"field":"hi","type":"nominal"}}},
   {"transform":[{"filter":"datum.r == 0"}],"mark":{"type":"rule","color":"#3a3ab0","strokeWidth":1.3,"xOffset":22,"x2Offset":-16},"encoding":{"x":{"value":0},"x2":{"value":"width"},"y":{"field":"r","type":"quantitative"}}},
   {"transform":[{"filter":"datum.r == 1"}],"mark":{"type":"rule","color":"#0000ff","strokeWidth":2.2,"xOffset":22,"x2Offset":-16},"encoding":{"x":{"value":0},"x2":{"value":"width"},"y":{"field":"r","type":"quantitative"}}},
   {"transform":[{"filter":"datum.r == 0"}],"mark":{"type":"rect","color":"#ff0000","stroke":"#808080","strokeWidth":1},"encoding":{"x":{"value":5},"x2":{"value":189},"y":{"value":58},"y2":{"value":77}}},
   {"transform":[{"filter":"datum.r == 0"}],"mark":{"type":"rect","color":"#ffffff"},"encoding":{"x":{"value":64},"x2":{"value":132},"y":{"value":60},"y2":{"value":75}}},
   {"transform":[{"filter":"datum.r == 0"}],"mark":{"type":"text","text":"Hydrocarbon","color":"black"},"encoding":{"x":{"datum":0.5,"type":"quantitative"},"y":{"value":67.5}}}
  ]},
 {"width":192,"height":83,"view":{"fill":"white","stroke":"black","strokeWidth":2},"data":{"values":[{"r":0,"name":"VDCL (Dec)","lo":"0.","hi":"1."},{"r":1,"name":"VSILT (Dec)","lo":"0.","hi":"1."},{"r":2,"name":"PHIE (Dec)","lo":"1.","hi":"0."}]},
  "layer":[
   {"mark":{"type":"text","dy":-12},"encoding":{"x":{"datum":0.5,"type":"quantitative","scale":{"domain":[0,1],"nice":false},"axis":null},"y":{"field":"r","type":"quantitative","scale":{"domain":[-0.909,2.372],"reverse":true,"nice":false,"zero":false},"axis":null},"text":{"field":"name","type":"nominal"}}},
   {"mark":{"type":"text","align":"left","dx":3},"encoding":{"x":{"datum":0,"type":"quantitative"},"y":{"field":"r","type":"quantitative"},"text":{"field":"lo","type":"nominal"}}},
   {"mark":{"type":"text","align":"right","dx":-1},"encoding":{"x":{"datum":1,"type":"quantitative"},"y":{"field":"r","type":"quantitative"},"text":{"field":"hi","type":"nominal"}}},
   {"transform":[{"filter":"datum.r == 0"}],"mark":{"type":"rule","color":"#33aa33","strokeWidth":1.3,"strokeDash":[8,5],"xOffset":19,"x2Offset":-12},"encoding":{"x":{"value":0},"x2":{"value":"width"},"y":{"field":"r","type":"quantitative"}}},
   {"transform":[{"filter":"datum.r == 1"}],"mark":{"type":"rule","color":"#800080","strokeWidth":1.3,"strokeDash":[8,5],"xOffset":19,"x2Offset":-12},"encoding":{"x":{"value":0},"x2":{"value":"width"},"y":{"field":"r","type":"quantitative"}}},
   {"transform":[{"filter":"datum.r == 2"}],"mark":{"type":"rule","color":"#ff0000","strokeWidth":1.5,"xOffset":15,"x2Offset":-13},"encoding":{"x":{"value":0},"x2":{"value":"width"},"y":{"field":"r","type":"quantitative"}}}
  ]}
]},
{"spacing":0,"bounds":"flush","hconcat":[
 {"width":195,"height":777,"layer":[
  {"data":{"name":"grn"},"mark":{"type":"line","color":"#2a8a2a","strokeWidth":1,"clip":true},
   "encoding":{"x":{"field":"v","type":"quantitative","scale":{"domain":[-100,100],"nice":false,"zero":false},"axis":{"title":null,"grid":true,"values":[-80,-60,-40,-20,20,40,60,80],"gridColor":"#d4d4d4","gridWidth":1.5}},
    "y":{"field":"d","type":"quantitative","scale":{"domain":[2329.6,2430.7],"reverse":true,"nice":false,"zero":false},"axis":{"title":null,"grid":true,"values":[2340,2350,2360,2370,2380,2390,2400,2410,2420,2430],"gridColor":"#c8c8c8","gridWidth":1.5}},
    "order":{"field":"d","type":"quantitative"}}},
  {"data":{"name":"core"},"mark":{"type":"area","orient":"horizontal","color":"#ffcc00","stroke":"#ffff00","strokeWidth":1.5,"clip":true},
   "encoding":{"x":{"field":"l","type":"quantitative","scale":{"domain":[-100,100],"nice":false,"zero":false},"axis":{"title":null,"grid":true,"values":[0],"gridColor":"#a8a8a8","gridWidth":1.5}},"x2":{"field":"r"},
    "y":{"field":"d","type":"quantitative"}}}
 ],"resolve":{"scale":{"x":"independent"}}},
 {"width":49,"height":777,
  "layer":[
  {"data":{"values":[{"d":2350},{"d":2400}]},"mark":{"type":"text","fontSize":12,"color":"#222222"},"encoding":{"x":{"datum":0.5,"type":"quantitative","scale":{"domain":[0,1],"nice":false},"axis":null},"y":{"field":"d","type":"quantitative","scale":{"domain":[2329.6,2430.7],"reverse":true,"nice":false,"zero":false},"axis":null},"text":{"field":"d","type":"quantitative","format":"d"}}},
  {"data":{"values":[{"d":2370.6,"t":"2370"},{"d":2388.9,"t":"2390"}]},"mark":{"type":"text","fontSize":17,"color":"#3a3aa0"},"encoding":{"x":{"datum":0.32,"type":"quantitative"},"y":{"field":"d","type":"quantitative"},"text":{"field":"t","type":"nominal"}}}
 ]},
 {"width":196,"height":777,
  "layer":[
  {"data":{"name":"res"},"mark":{"type":"line","color":"#3333ff","strokeWidth":1.2,"clip":true},
   "encoding":{"x":{"field":"ild","type":"quantitative","scale":{"domain":[0,20],"nice":false,"zero":false},"axis":{"title":null,"grid":true,"values":[2,4,6,8,12,14,16,18],"gridColor":"#d4d4d4","gridWidth":1.5}},
    "y":{"field":"d","type":"quantitative","scale":{"domain":[2329.6,2430.7],"reverse":true,"nice":false,"zero":false},"axis":{"title":null,"grid":true,"values":[2340,2350,2360,2370,2380,2390,2400,2410,2420,2430],"gridColor":"#c8c8c8","gridWidth":1.5}},
    "order":{"field":"d","type":"quantitative"}}},
  {"data":{"name":"res"},"mark":{"type":"line","color":"#ff0000","strokeWidth":1,"clip":true},
   "encoding":{"x":{"field":"ilm","type":"quantitative","scale":{"domain":[0,20],"nice":false,"zero":false},"axis":{"title":null,"grid":true,"values":[10],"gridColor":"#a8a8a8","gridWidth":1.5}},"y":{"field":"d","type":"quantitative"},"order":{"field":"d","type":"quantitative"}}},
  {"data":{"values":[{"t":"COLI-","d":2416.7,"v":10.9}]},"mark":{"type":"text","fontSize":19,"fontWeight":"bold","color":"#333399"},
   "encoding":{"x":{"field":"v","type":"quantitative","scale":{"domain":[0,20],"nice":false,"zero":false},"axis":null},"y":{"field":"d","type":"quantitative"},"text":{"field":"t","type":"nominal"}}}
 ],"resolve":{"scale":{"x":"independent"}}},
 {"width":195,"height":777,"data":{"name":"t4"},
  "layer":[
  {"mark":{"type":"line","color":"#2a8a2a","strokeWidth":1,"clip":true},
   "encoding":{"x":{"field":"np","type":"quantitative","scale":{"domain":[0.45,-0.15],"nice":false,"zero":false},"axis":{"title":null,"grid":true,"values":[0.42,0.39,0.36,0.33,0.27,0.24,0.21,0.18,0.12,0.09,0.06,0.03,-0.03,-0.06,-0.09,-0.12],"gridColor":"#d4d4d4","gridWidth":1.3}},
    "y":{"field":"d","type":"quantitative","scale":{"domain":[2329.6,2430.7],"reverse":true,"nice":false,"zero":false},"axis":{"title":null,"grid":true,"values":[2340,2350,2360,2370,2380,2390,2400,2410,2420,2430],"gridColor":"#c8c8c8","gridWidth":1.5}},
    "order":{"field":"d","type":"quantitative"}}},
  {"mark":{"type":"line","color":"#3333ff","strokeWidth":1,"clip":true},
   "encoding":{"x":{"field":"dt","type":"quantitative","scale":{"domain":[140,40],"nice":false,"zero":false},"axis":{"title":null,"grid":true,"values":[115,90,65],"gridColor":"#a8a8a8","gridWidth":1.5}},"y":{"field":"d","type":"quantitative"},"order":{"field":"d","type":"quantitative"}}},
  {"mark":{"type":"line","color":"#ff2222","strokeWidth":1,"clip":true},
   "encoding":{"x":{"field":"rb","type":"quantitative","scale":{"domain":[1.95,2.95],"nice":false,"zero":false},"axis":null},"y":{"field":"d","type":"quantitative"},"order":{"field":"d","type":"quantitative"}}}
  ],
  "resolve":{"scale":{"x":"independent"}}},
 {"width":98,"height":777,"data":{"name":"sw"},"mark":{"type":"line","color":"#0000ff","strokeWidth":1.6,"clip":true},
  "encoding":{"x":{"field":"v","type":"quantitative","scale":{"domain":[1,0],"nice":false,"zero":false},"axis":{"title":null,"grid":true,"values":[0.2,0.4,0.6,0.8],"gridColor":"#d4d4d4","gridWidth":1.5}},
   "y":{"field":"d","type":"quantitative","scale":{"domain":[2329.6,2430.7],"reverse":true,"nice":false,"zero":false},"axis":{"title":null,"grid":true,"values":[2340,2350,2360,2370,2380,2390,2400,2410,2420,2430],"gridColor":"#c8c8c8","gridWidth":1.5}},
   "order":{"field":"d","type":"quantitative"}}},
 {"width":195,"height":777,
  "layer":[
  {"data":{"name":"hc"},"mark":{"type":"area","orient":"horizontal","color":"#ff0000","clip":true},
   "encoding":{"x":{"field":"a","type":"quantitative","scale":{"domain":[0.5,0],"nice":false,"zero":false},"axis":{"title":null,"grid":true,"values":[0.1,0.2,0.3,0.4],"gridColor":"#d4d4d4","gridWidth":1.5}},"x2":{"field":"b"},"detail":{"field":"g","type":"nominal"},
    "y":{"field":"d","type":"quantitative","scale":{"domain":[2329.6,2430.7],"reverse":true,"nice":false,"zero":false},"axis":{"title":null,"grid":true,"values":[2340,2350,2360,2370,2380,2390,2400,2410,2420,2430],"gridColor":"#c8c8c8","gridWidth":1.5}}}},
  {"data":{"name":"phit"},"mark":{"type":"line","color":"#33339a","strokeWidth":1,"clip":true},
   "encoding":{"x":{"field":"v","type":"quantitative"},"y":{"field":"d","type":"quantitative"},"order":{"field":"d","type":"quantitative"}}},
  {"data":{"name":"phie"},"mark":{"type":"line","color":"#0000ff","strokeWidth":2.4,"clip":true},
   "encoding":{"x":{"field":"v","type":"quantitative"},"y":{"field":"d","type":"quantitative"},"order":{"field":"d","type":"quantitative"}}}
 ]},
 {"width":192,"height":777,"view":{"fill":"#ffff1a","stroke":"black","strokeWidth":2},
  "layer":[
  {"data":{"name":"phie"},"mark":{"type":"area","orient":"horizontal","color":"#ffffff","clip":true},
   "encoding":{"x":{"field":"v","type":"quantitative","stack":null,"scale":{"domain":[1,0],"nice":false,"zero":true},"axis":null},
    "y":{"field":"d","type":"quantitative","scale":{"domain":[2329.6,2430.7],"reverse":true,"nice":false,"zero":false},"axis":null}}},
  {"data":{"name":"lith"},"mark":{"type":"area","orient":"horizontal","color":"#77720a","clip":true},
   "encoding":{"x":{"field":"vs","type":"quantitative","stack":null,"scale":{"domain":[0,1],"nice":false,"zero":true},"axis":null},"y":{"field":"d","type":"quantitative"}}},
  {"data":{"name":"lith"},"mark":{"type":"area","orient":"horizontal","color":"#ffffff","clip":true},
   "encoding":{"x":{"field":"vcl","type":"quantitative","stack":null,"scale":{"domain":[0,1],"nice":false,"zero":true},"axis":null},"y":{"field":"d","type":"quantitative"}}},
  {"data":{"name":"lith"},"mark":{"type":"rule","color":"#3a9a3a","strokeWidth":1.5,"strokeDash":[5,3],"clip":true},
   "encoding":{"x":{"field":"vcl","type":"quantitative","scale":{"domain":[0,1],"nice":false,"zero":false},"axis":null},"x2":{"value":0},"y":{"field":"d","type":"quantitative"}}},
  {"data":{"name":"lith"},"mark":{"type":"line","color":"#008000","strokeWidth":1.5,"strokeDash":[6,3],"clip":true},
   "encoding":{"x":{"field":"vcl","type":"quantitative","scale":{"domain":[0,1],"nice":false,"zero":false},"axis":null},"y":{"field":"d","type":"quantitative"},"order":{"field":"d","type":"quantitative"}}},
  {"data":{"name":"lith"},"mark":{"type":"line","color":"#800080","strokeWidth":1.2,"strokeDash":[5,3],"clip":true},
   "encoding":{"x":{"field":"vs","type":"quantitative","scale":{"domain":[0,1],"nice":false,"zero":false},"axis":null},"y":{"field":"d","type":"quantitative"},"order":{"field":"d","type":"quantitative"}}},
  {"data":{"name":"phie"},"mark":{"type":"line","color":"#ff0000","strokeWidth":2,"clip":true},
   "encoding":{"x":{"field":"v","type":"quantitative","scale":{"domain":[1,0],"nice":false,"zero":false},"axis":null},"y":{"field":"d","type":"quantitative"},"order":{"field":"d","type":"quantitative"}}}
  ],
  "resolve":{"scale":{"x":"independent"}}}
]}
]
}
